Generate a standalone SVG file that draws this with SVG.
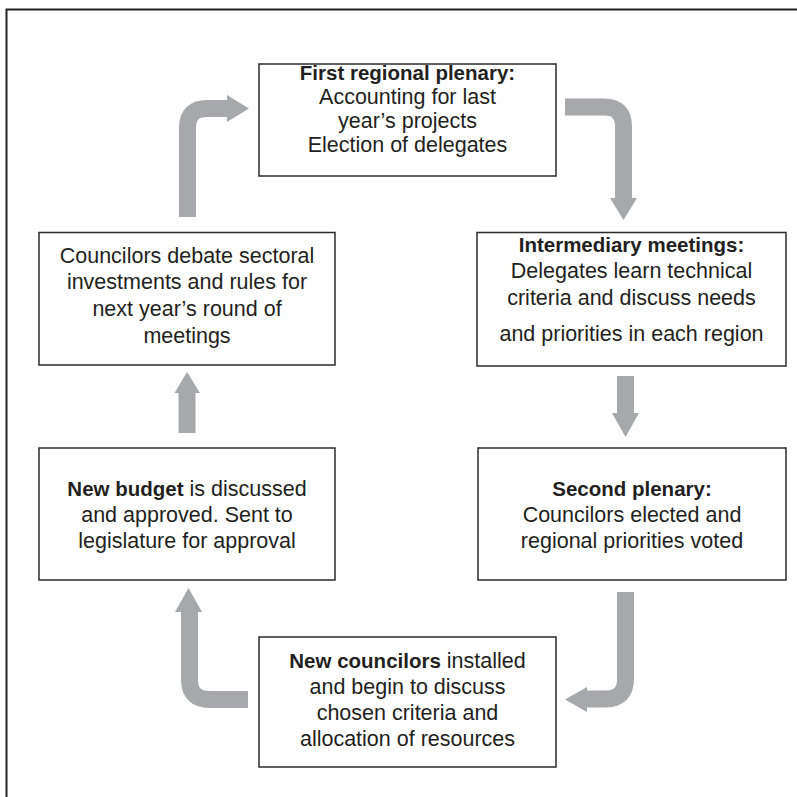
<svg xmlns="http://www.w3.org/2000/svg" width="797" height="797" viewBox="0 0 797 797">
<style>
.box{fill:#fff;stroke:#2b2b2b;stroke-width:1.5}
.t{font-family:"Liberation Sans",Arial,Helvetica,sans-serif;font-size:21.5px;fill:#231f20;text-anchor:middle}
.b{font-weight:bold;font-size:20.5px}
.arr{fill:none;stroke:#a7a8ab;stroke-width:17}
.head{fill:#a7a8ab}
</style>
<rect width="797" height="797" fill="#fff"/>
<path d="M6.5 797 V9.5 H797" fill="none" stroke="#222" stroke-width="2"/>
<g id="connectors">
<path class="arr" d="M187.5 217 V128 Q187.5 108.5 207 108.5 H228"/>
<polygon class="head" points="227,95 249,108.5 227,122"/>
<path class="arr" d="M565 107 H604 Q623.5 107 623.5 126.5 V199"/>
<polygon class="head" points="610,198 637,198 623.5,220"/>
<path class="arr" d="M625.5 376 V414"/>
<polygon class="head" points="612,413 639,413 625.5,437"/>
<path class="arr" d="M625.5 592 V679 Q625.5 699 605.5 699 H586"/>
<polygon class="head" points="587,687 587,712 565,699.5"/>
<path class="arr" d="M248 699.5 H209.5 Q189.5 699.5 189.5 679.5 V611"/>
<polygon class="head" points="175,612 202,612 188.5,588"/>
<path class="arr" d="M187 433 V392"/>
<polygon class="head" points="174.5,393 200,393 187,372"/>
</g>
<g id="n1">
<rect class="box" x="259" y="64" width="297" height="112"/>
<text class="t" x="407.5"><tspan class="b" x="407.5" y="80">First regional plenary:</tspan><tspan x="407.5" y="104">Accounting for last</tspan><tspan x="407.5" y="128">year’s projects</tspan><tspan x="407.5" y="152">Election of delegates</tspan></text>
</g>
<g id="n2">
<rect class="box" x="477" y="232.5" width="309" height="133.5"/>
<text class="t" x="631.5"><tspan class="b" x="631.5" y="252">Intermediary meetings:</tspan><tspan x="631.5" y="278">Delegates learn technical</tspan><tspan x="631.5" y="305">criteria and discuss needs</tspan><tspan x="631.5" y="341">and priorities in each region</tspan></text>
</g>
<g id="n3">
<rect class="box" x="478" y="448" width="308" height="132"/>
<text class="t" x="632"><tspan class="b" x="632" y="496">Second plenary:</tspan><tspan x="632" y="522">Councilors elected and</tspan><tspan x="632" y="548">regional priorities voted</tspan></text>
</g>
<g id="n4">
<rect class="box" x="259" y="637" width="297" height="130"/>
<text class="t" x="407.5"><tspan x="407.5" y="668"><tspan class="b">New councilors</tspan> installed</tspan><tspan x="407.5" y="694">and begin to discuss</tspan><tspan x="407.5" y="720">chosen criteria and</tspan><tspan x="407.5" y="746">allocation of resources</tspan></text>
</g>
<g id="n5">
<rect class="box" x="39" y="448" width="296" height="132"/>
<text class="t" x="187"><tspan x="187" y="496"><tspan class="b">New budget</tspan> is discussed</tspan><tspan x="187" y="522">and approved. Sent to</tspan><tspan x="187" y="548">legislature for approval</tspan></text>
</g>
<g id="n6">
<rect class="box" x="39" y="232.5" width="296" height="132.5"/>
<text class="t" x="187"><tspan x="187" y="263">Councilors debate sectoral</tspan><tspan x="187" y="289">investments and rules for</tspan><tspan x="187" y="316">next year’s round of</tspan><tspan x="187" y="343">meetings</tspan></text>
</g>
</svg>
